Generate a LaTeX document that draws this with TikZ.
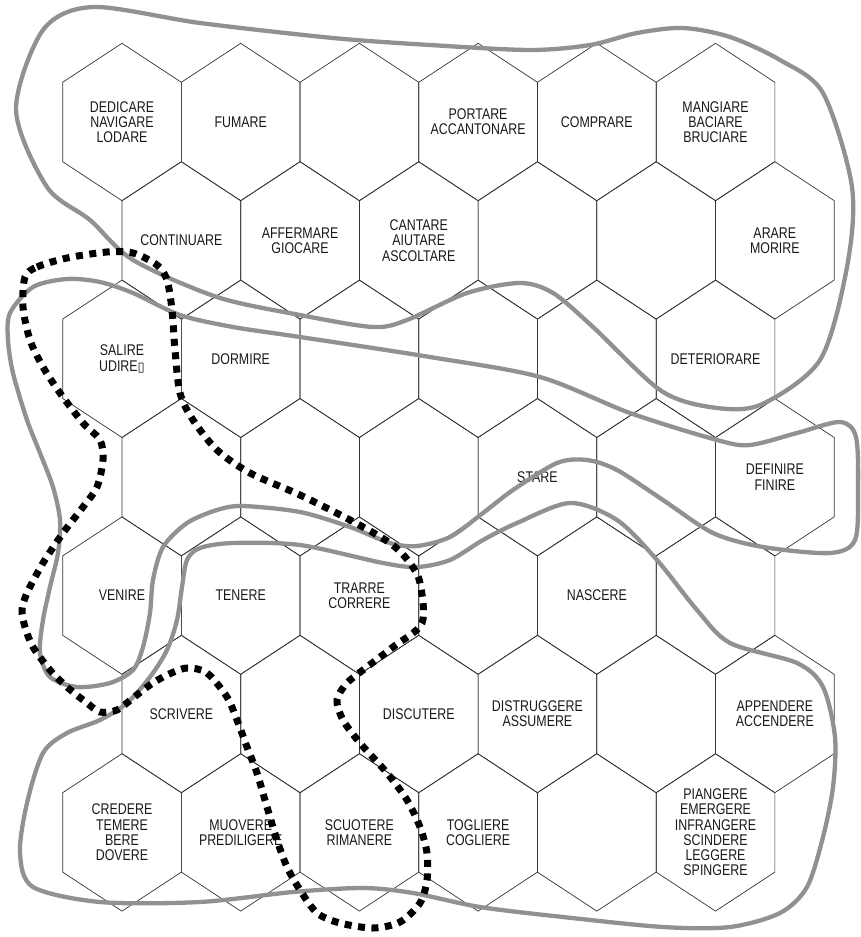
\documentclass[tikz,border=0pt]{standalone}
\usepackage{fontspec}
\newfontfamily\verbfont{Liberation Sans}[FakeStretch=0.8]
\newfontfamily\glyphfont{DejaVu Sans}
\definecolor{bandgray}{RGB}{145,145,145}

\begin{document}
\begin{tikzpicture}[x=1pt, y=-1pt,
    hexline/.style={draw=black!80, line width=0.7pt},
    verb/.style={font=\verbfont\fontsize{15.5}{15.3}\selectfont, align=center, text=black!90, inner sep=0pt},
    cluster/.style={draw=bandgray, line width=4.3pt},
    border/.style={draw=black, line width=7pt, dash pattern=on 7pt off 6.5pt}]
\useasboundingbox (0,0) rectangle (861,937);

% hexagonal map, 7 rows of 6 cells
\foreach \r in {0,...,6}
  \foreach \c in {0,...,5} {
    \pgfmathsetmacro\cx{122+118.7*\c+59.35*mod(\r,2)}
    \pgfmathsetmacro\cy{122+118.4*\r}
    \coordinate (h\r\c) at (\cx,\cy);
    \draw[hexline, shift={(\cx,\cy)}] (0,-78.7) -- (59.35,-39.7) -- (59.35,39.7)
      -- (0,78.7) -- (-59.35,39.7) -- (-59.35,-39.7) -- cycle;
  }

\node[verb] (dedicare) at (h00) {DEDICARE\\NAVIGARE\\LODARE};
\node[verb] (fumare) at (h01) {FUMARE};
\node[verb] (portare) at (h03) {PORTARE\\ACCANTONARE};
\node[verb] (comprare) at (h04) {COMPRARE};
\node[verb] (mangiare) at (h05) {MANGIARE\\BACIARE\\BRUCIARE};

\node[verb] (continuare) at (h10) {CONTINUARE};
\node[verb] (affermare) at (h11) {AFFERMARE\\GIOCARE};
\node[verb] (cantare) at (h12) {CANTARE\\AIUTARE\\ASCOLTARE};
\node[verb] (arare) at (h15) {ARARE\\MORIRE};

\node[verb] (salire) at (h20) {SALIRE\\UDIRE{\glyphfont\fontsize{13}{13}\selectfont ▯}};
\node[verb] (dormire) at (h21) {DORMIRE};
\node[verb] (deteriorare) at (h25) {DETERIORARE};

\node[verb] (stare) at (h33) {STARE};
\node[verb] (definire) at (h35) {DEFINIRE\\FINIRE};

\node[verb] (venire) at (h40) {VENIRE};
\node[verb] (tenere) at (h41) {TENERE};
\node[verb] (trarre) at (h42) {TRARRE\\CORRERE};
\node[verb] (nascere) at (h44) {NASCERE};

\node[verb] (scrivere) at (h50) {SCRIVERE};
\node[verb] (discutere) at (h52) {DISCUTERE};
\node[verb] (distruggere) at (h53) {DISTRUGGERE\\ASSUMERE};
\node[verb] (appendere) at (h55) {APPENDERE\\ACCENDERE};

\node[verb] (credere) at (h60) {CREDERE\\TEMERE\\BERE\\DOVERE};
\node[verb] (muovere) at (h61) {MUOVERE\\PREDILIGERE};
\node[verb] (scuotere) at (h62) {SCUOTERE\\RIMANERE};
\node[verb] (togliere) at (h63) {TOGLIERE\\COGLIERE};
\node[verb] (piangere) at (h65) {PIANGERE\\EMERGERE\\INFRANGERE\\SCINDERE\\LEGGERE\\SPINGERE};

% clusters
\draw[cluster] plot[smooth cycle] coordinates {(93,7) (200,23) (333,38) (430,45) (530,50)
  (590,45) (637,33) (683,28) (730,37) (780,60) (823,93) (852,187) (847,267) (820,360)
  (760,405) (710,407) (660,390) (593,327) (553,293) (520,283) (467,293) (407,320)
  (373,327) (300,315) (217,297) (133,260) (90,220) (47,187) (16,110) (43,30)};
\draw[cluster] plot[smooth cycle] coordinates {(10,313) (33,287) (67,279) (100,282)
  (133,293) (180,315) (233,327) (300,337) (430,357) (540,377) (630,413) (717,440)
  (750,445) (797,433) (840,422) (856,437) (858,490) (855,540) (830,553) (763,547)
  (713,533) (663,500) (617,470) (587,460) (557,463) (513,490) (483,513) (450,537)
  (417,546) (390,543) (350,527) (300,512) (243,506) (217,510) (187,523) (163,547)
  (153,580) (150,613) (143,647) (133,670) (110,683) (77,687) (50,677) (40,653)
  (43,620) (50,587) (58,553) (60,520) (53,487) (40,453) (27,420) (13,373) (8,340)};
\draw[cluster] plot[smooth cycle] coordinates {(233,543) (300,545) (383,563) (417,567)
  (450,560) (483,540) (517,523) (570,503) (617,520) (657,560) (697,610) (730,643)
  (797,663) (823,687) (835,737) (833,787) (823,837) (807,887) (780,913) (730,927)
  (663,927) (563,917) (480,907) (413,893) (363,888) (293,892) (200,902) (100,902)
  (33,887) (20,853) (27,803) (43,753) (67,733) (100,720) (127,703) (150,677)
  (167,650) (177,620) (182,587) (187,560) (200,548)};

% dotted region
\draw[border] plot[smooth cycle] coordinates {(25,277) (37,267) (67,258) (107,252)
  (133,253) (157,265) (167,280) (172,310) (175,350) (180,393) (193,420) (217,450)
  (250,473) (300,495) (350,520) (390,543) (410,563) (420,583) (422,623) (393,647)
  (367,667) (347,683) (337,700) (343,720) (360,743) (387,773) (407,800) (420,827)
  (427,853) (427,880) (420,903) (400,922) (373,928) (340,923) (317,913) (300,890)
  (287,867) (277,840) (267,807) (257,773) (247,747) (237,720) (227,697) (207,673)
  (187,668) (167,675) (150,685) (133,698) (117,710) (100,712) (87,703) (67,687)
  (50,670) (33,647) (25,627) (22,610) (27,593) (43,563) (63,533) (83,507) (97,487)
  (103,460) (100,440) (83,423) (60,393) (43,367) (30,340) (23,307)};
\end{tikzpicture}
\end{document}
